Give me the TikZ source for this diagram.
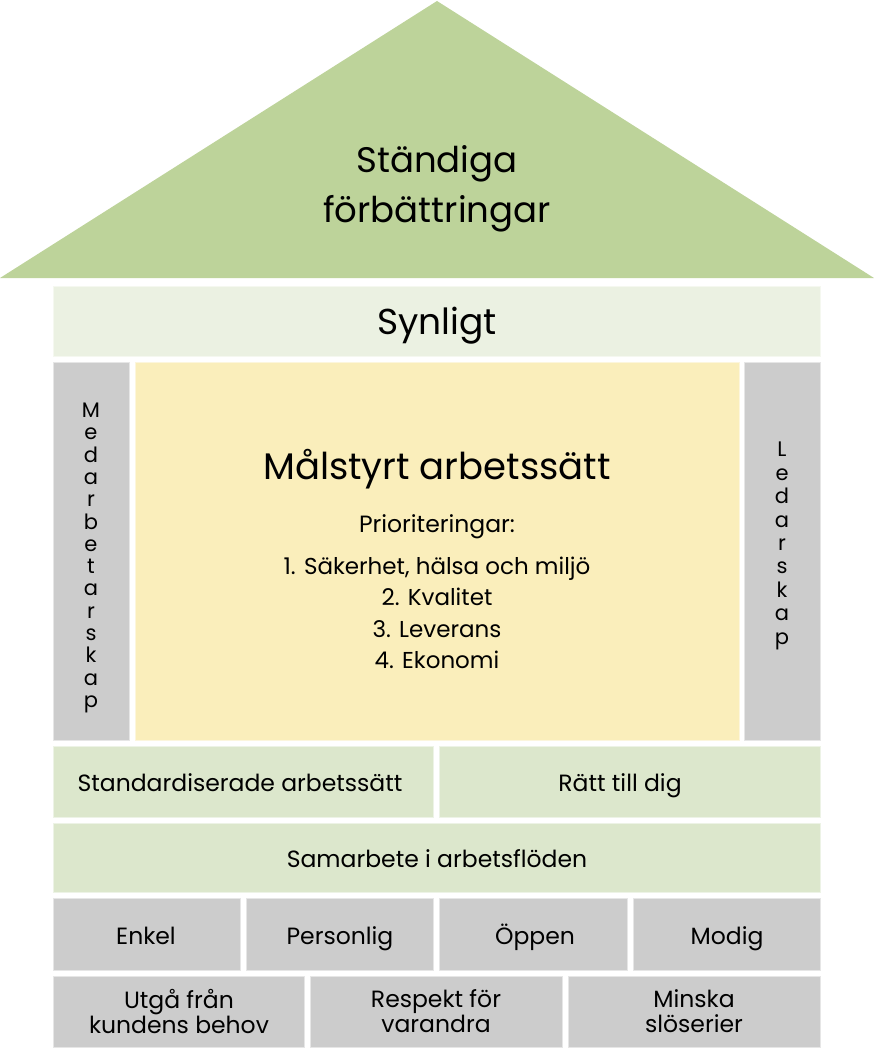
\documentclass[tikz,border=0pt]{standalone}
\usepackage{fontspec}
\setmainfont{Poppins}
\definecolor{roofc}{HTML}{BDD39A}
\definecolor{lightg}{HTML}{EBF1E2}
\definecolor{midg}{HTML}{DCE7CC}
\definecolor{grayc}{HTML}{CCCCCC}
\definecolor{yellc}{HTML}{FAEEBB}
\begin{document}
\begin{tikzpicture}[x=1pt,y=-1pt,
  blk/.style={draw=#1!50!white, line width=1pt, fill=#1, inner sep=0pt},
  txt/.style={font=\fontsize{23.5}{25}\selectfont, align=center, text=black, text height=0.72em, text depth=0.22em},
  txt2/.style={font=\fontsize{23.5}{25}\selectfont, align=center, text=black},
  vtxt/.style={font=\fontsize{21}{22.3}\selectfont, align=center, text=black}]
\useasboundingbox (0,0) rectangle (874,1049);
% roof
\coordinate (apex) at (437,1);
\coordinate (bl) at (0,278);
\coordinate (br) at (874,278);
\fill[roofc] (apex) -- (br) -- (bl) -- cycle;
\node[font=\fontsize{35.5}{50}\selectfont, align=center] (roof) at (437,189) {Ständiga\\förbättringar};
% synligt
\draw[blk=lightg] (53,286) rectangle (820,356);
\node[font=\fontsize{36}{40}\selectfont, text height=0.72em, text depth=0.22em] (syn) at (437,332) {Synligt};
% pillars
\draw[blk=grayc] (53,362) rectangle (129,740);
\draw[blk=yellc] (135,362) rectangle (739,740);
\draw[blk=grayc] (744,362) rectangle (820,740);
\node[vtxt] (med) at (91,558) {M\\e\\d\\a\\r\\b\\e\\t\\a\\r\\s\\k\\a\\p};
\node[font=\fontsize{21}{23.4}\selectfont, align=center] (led) at (782,546) {L\\e\\d\\a\\r\\s\\k\\a\\p};
\node[font=\fontsize{37}{40}\selectfont, text height=0.72em, text depth=0.22em] (mal) at (437,477) {Målstyrt arbetssätt};
\node[font=\fontsize{23.5}{25}\selectfont, text height=0.72em, text depth=0.22em] (prio) at (437,530) {Prioriteringar:};
\node[font=\fontsize{23}{31.5}\selectfont, align=center] (list) at (437,613) {1. Säkerhet, hälsa och miljö\\2. Kvalitet\\3. Leverans\\4. Ekonomi};
% row 1
\draw[blk=midg] (53,746) rectangle (433,817);
\node[txt] (std) at (240,789) {Standardiserade arbetssätt};
\draw[blk=midg] (439,746) rectangle (820,817);
\node[txt] (ratt) at (620,789) {Rätt till dig};
% row 2
\draw[blk=midg] (53,823) rectangle (820,892);
\node[txt] (sam) at (437,865) {Samarbete i arbetsflöden};
% row 3
\draw[blk=grayc] (53,898) rectangle (240,970);
\node[txt] (enk) at (146,942) {Enkel};
\draw[blk=grayc] (246,898) rectangle (433,970);
\node[txt] (per) at (340,942) {Personlig};
\draw[blk=grayc] (439,898) rectangle (627,970);
\node[txt] (opp) at (535,942) {Öppen};
\draw[blk=grayc] (633,898) rectangle (820,970);
\node[txt] (mod) at (727,942) {Modig};
% row 4
\draw[blk=grayc] (53,976) rectangle (304,1047);
\node[txt2] (utg) at (179,1011) {Utgå från\\kundens behov};
\draw[blk=grayc] (310,976) rectangle (562,1047);
\node[txt2] (res) at (436,1011) {Respekt för\\varandra};
\draw[blk=grayc] (568,976) rectangle (820,1047);
\node[txt2] (min) at (694,1011) {Minska\\slöserier};
\end{tikzpicture}
\end{document}
